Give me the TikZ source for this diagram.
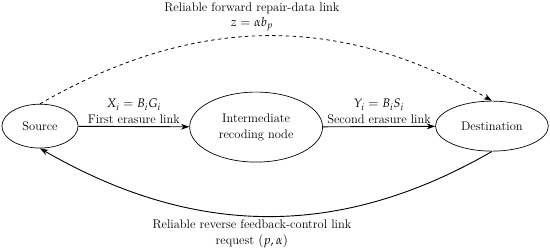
\documentclass[tikz,border=0pt]{standalone}
\usepackage{amsmath}
\usepackage{mathpazo}
\usepackage{tikz}
\usetikzlibrary{arrows.meta,positioning,shapes.geometric}

\begin{document}
\begin{tikzpicture}[x=1cm,y=1cm,font=\fontsize{11}{14}\selectfont,nd/.style={ellipse,draw,line width=.6pt,inner sep=0pt,align=center},link/.style={-{Stealth[length=2.6mm,width=1.8mm]},line width=.8pt},lbl/.style={align=center,inner sep=1pt}]
\useasboundingbox (0,0) rectangle (17.05,7.75);

\node[nd,minimum width=2.36cm,minimum height=1.36cm] (src) at(1.24,3.84) {Source};
\node[nd,minimum width=4.12cm,minimum height=2.17cm] (rel) at(7.94,3.81) {Intermediate\\recoding node};
\node[nd,minimum width=3.5cm,minimum height=1.55cm] (dst) at(15.25,3.84) {Destination};

\draw[link] (src)--node[lbl,above=1pt]{$X_i=B_iG_i$\\First erasure link} (rel);
\draw[link] (rel)--node[lbl,above=1pt]{$Y_i=B_iS_i$\\Second erasure link} (dst);
\draw[link,dashed,line width=.7pt] (src.north) to[out=30,in=150] (dst.north);
\draw[link] (dst.south) to[out=-150,in=-30] (src.south);

\node[lbl,anchor=south] (rev) at(7.81,0.02) {Reliable reverse feedback-control link\\request $(p,\alpha)$};
\node[lbl,anchor=north] (fwd) at(7.81,7.72) {Reliable forward repair-data link\\$z=\alpha b_p$};
\end{tikzpicture}
\end{document}
